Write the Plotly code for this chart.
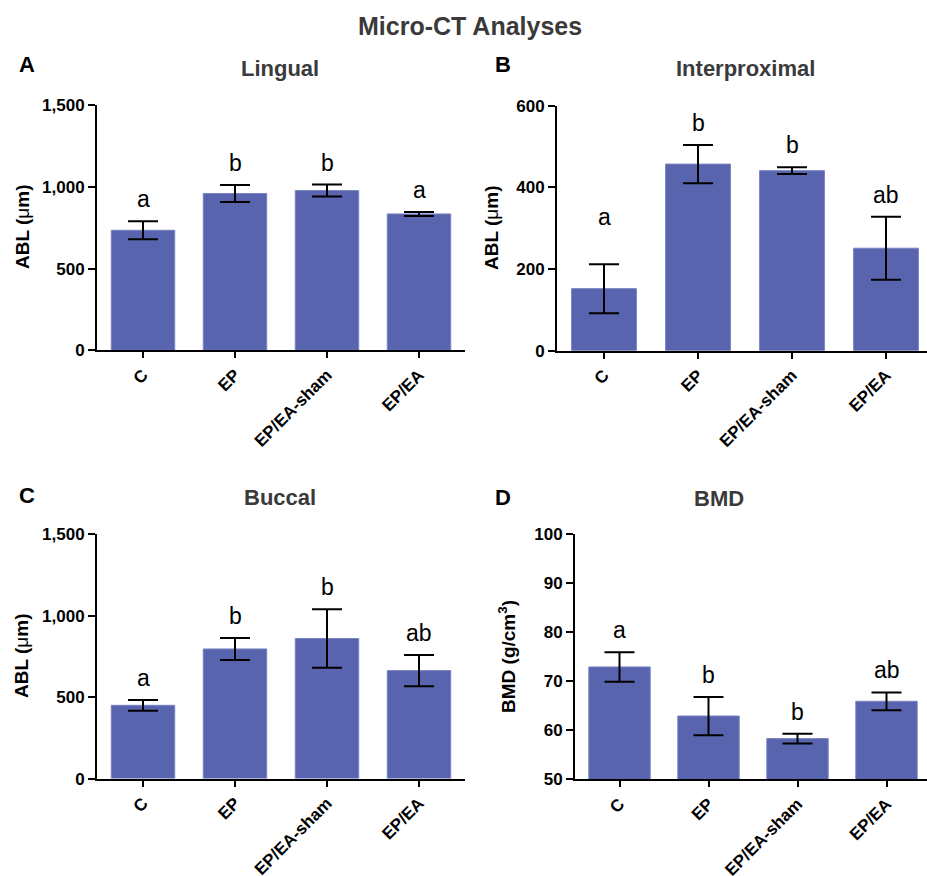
import plotly.graph_objects as go

# ---- data ----
groups = ["C", "EP", "EP/EA-sham", "EP/EA"]

lingual_mean = [735, 960, 978, 835]
lingual_sem = [55, 52, 37, 12]
lingual_letters = ["a", "b", "b", "a"]

interprox_mean = [152, 457, 441, 251]
interprox_sem = [60, 47, 8, 77]
interprox_letters = ["a", "b", "b", "ab"]

buccal_mean = [450, 796, 860, 663]
buccal_sem = [33, 68, 180, 96]
buccal_letters = ["a", "b", "b", "ab"]

bmd_mean = [72.9, 62.9, 58.3, 65.9]
bmd_sem = [3.0, 3.9, 1.0, 1.8]
bmd_letters = ["a", "b", "b", "ab"]

abl_ticks = [0, 500, 1000, 1500]
interprox_ticks = [0, 200, 400, 600]
bmd_ticks = [50, 60, 70, 80, 90, 100]

W, H = 927, 876
FONT = "Liberation Sans, Arial, Helvetica, sans-serif"
BAR = "#5865ae"
TITLE_C = "#3a3a3a"


def px_x(p):
    return p / W


def px_y(p):
    return 1 - p / H


panels = [
    dict(mean=lingual_mean, sem=lingual_sem, letters=lingual_letters,
         ticks=abl_ticks, yr=[0, 1500], xdom=[97, 465], ydom=[350.3, 105.3],
         xr=[-0.5, 3.5], title="Lingual", tpos=(280, 69), tag="A", tagpos=(27, 64),
         ytitle="<b>ABL (</b>μ<b>m)</b>", ytpos=(22, 227), lshift=[0, 0, 0, 0]),
    dict(mean=interprox_mean, sem=interprox_sem, letters=interprox_letters,
         ticks=interprox_ticks, yr=[0, 600], xdom=[557, 927], ydom=[350.7, 105.7],
         xr=[-0.5, 3.436], title="Interproximal", tpos=(745, 69), tag="B", tagpos=(503, 64),
         ytitle="<b>ABL (</b>μ<b>m)</b>", ytpos=(492, 228), lshift=[25, 0, 0, 0]),
    dict(mean=buccal_mean, sem=buccal_sem, letters=buccal_letters,
         ticks=abl_ticks, yr=[0, 1500], xdom=[97, 465], ydom=[778.6, 534.3],
         xr=[-0.5, 3.5], title="Buccal", tpos=(280, 497), tag="C", tagpos=(27, 495),
         ytitle="<b>ABL (</b>μ<b>m)</b>", ytpos=(21, 656), lshift=[0, 0, 0, 0]),
    dict(mean=bmd_mean, sem=bmd_sem, letters=bmd_letters,
         ticks=bmd_ticks, yr=[50, 100], xdom=[575, 927], ydom=[779.3, 534.0],
         xr=[-0.5, 3.455], title="BMD", tpos=(719, 498), tag="D", tagpos=(503, 497),
         ytitle="<b>BMD (g/cm<sup>3</sup>)</b>", ytpos=(507, 657), lshift=[0, 0, 0, 0]),
]

fig = go.Figure()
annotations = []
layout_axes = {}

for i, p in enumerate(panels):
    n = "" if i == 0 else str(i + 1)
    xa, ya = "x" + n, "y" + n
    fig.add_trace(go.Bar(
        x=groups, y=p["mean"], xaxis=xa, yaxis=ya, width=0.69,
        marker=dict(color=BAR, line=dict(color="#7a83c2", width=1)),
        error_y=dict(type="data", array=p["sem"], visible=True,
                     color="black", thickness=2, width=15),
        hoverinfo="skip", showlegend=False,
    ))
    layout_axes["xaxis" + n] = dict(
        domain=[px_x(p["xdom"][0]), px_x(p["xdom"][1])],
        anchor=ya, range=p["xr"], type="category", automargin=False,
        showline=True, linecolor="black", linewidth=2,
        ticks="outside", ticklen=6, tickwidth=2, tickcolor="black",
        tickangle=-45, showgrid=False, zeroline=False,
        tickfont=dict(family=FONT, size=17, color="black", weight="bold"),
    )
    layout_axes["yaxis" + n] = dict(
        domain=[px_y(p["ydom"][0]), px_y(p["ydom"][1])],
        anchor=xa, range=p["yr"], tickvals=p["ticks"], tickformat=",",
        automargin=False,
        showline=True, linecolor="black", linewidth=2,
        ticks="outside", ticklen=7, tickwidth=2, tickcolor="black",
        showgrid=False, zeroline=False,
        tickfont=dict(family=FONT, size=17, color="black", weight="bold"),
    )
    # significance letters
    for g, m, s, lt, sh in zip(groups, p["mean"], p["sem"], p["letters"], p["lshift"]):
        annotations.append(dict(
            x=g, y=m + s, xref=xa, yref=ya, text=lt, showarrow=False,
            yanchor="bottom", yshift=7 + sh,
            font=dict(family=FONT, size=23, color="black"),
        ))
    # panel title
    annotations.append(dict(
        x=px_x(p["tpos"][0]), y=px_y(p["tpos"][1]), xref="paper", yref="paper",
        text="<b>" + p["title"] + "</b>", showarrow=False,
        xanchor="center", yanchor="middle",
        font=dict(family=FONT, size=22, color=TITLE_C),
    ))
    # panel tag
    annotations.append(dict(
        x=px_x(p["tagpos"][0]), y=px_y(p["tagpos"][1]), xref="paper", yref="paper",
        text="<b>" + p["tag"] + "</b>", showarrow=False,
        xanchor="center", yanchor="middle",
        font=dict(family=FONT, size=22, color="black"),
    ))
    # y axis title
    annotations.append(dict(
        x=px_x(p["ytpos"][0]), y=px_y(p["ytpos"][1]), xref="paper", yref="paper",
        text=p["ytitle"], showarrow=False, textangle=-90,
        xanchor="center", yanchor="middle",
        font=dict(family=FONT, size=19, color="black"),
    ))

annotations.append(dict(
    x=px_x(470), y=px_y(26), xref="paper", yref="paper",
    text="<b>Micro-CT Analyses</b>", showarrow=False,
    xanchor="center", yanchor="middle",
    font=dict(family=FONT, size=25, color=TITLE_C),
))

fig.update_layout(
    width=W, height=H,
    margin=dict(l=0, r=0, t=0, b=0, autoexpand=False),
    paper_bgcolor="white", plot_bgcolor="white",
    bargap=0.3,
    annotations=annotations,
    **layout_axes,
)

fig.write_html(
    "out.html",
    config={"displayModeBar": False},
    post_script="document.body.style.margin='0';document.body.style.overflow='hidden';",
)
